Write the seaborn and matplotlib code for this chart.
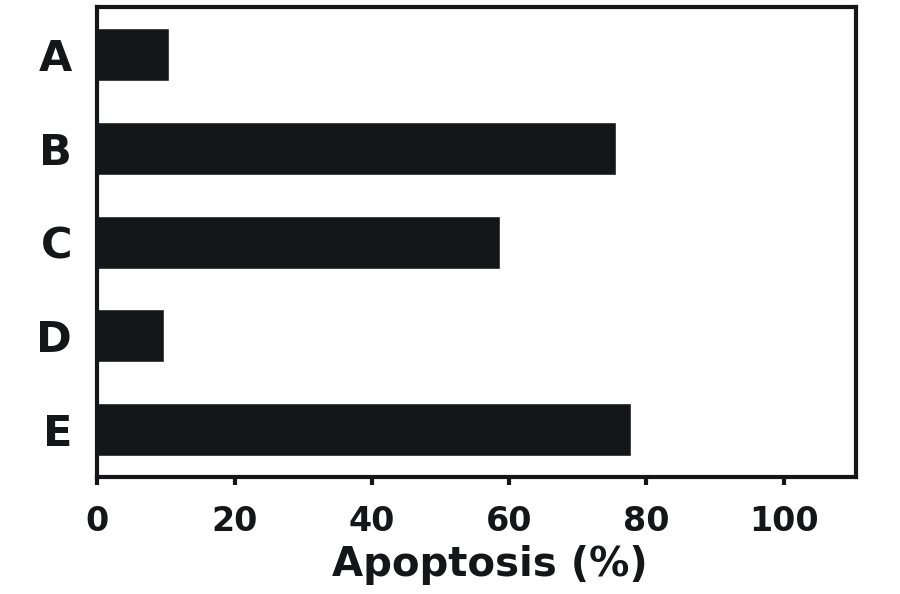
import seaborn as sns
import matplotlib.pyplot as plt
import pandas as pd

groups = ['A', 'B', 'C', 'D', 'E']
apoptosis = [10.4, 75.5, 58.6, 9.8, 77.7]

bar_color = '#151618'

sns.set_style('white')
plt.rcParams['font.family'] = ['DejaVu Sans']
plt.rcParams['font.weight'] = 'bold'

data = pd.DataFrame({'Group': groups, 'Apoptosis': apoptosis})

fig = plt.figure(figsize=(9, 5.94), dpi=100)
ax = fig.add_axes([0.108, 0.197, 0.843, 0.791])
sns.barplot(data=data, x='Apoptosis', y='Group', order=groups, orient='h',
            color=bar_color, width=0.566, saturation=1, ax=ax)

ax.set_xlim(0, 110.5)
ax.set_ylim(4.51, -0.51)
ax.set_xticks([0, 20, 40, 60, 80, 100])
ax.set_xlabel('Apoptosis (%)', fontsize=29, fontweight='bold', labelpad=6)
ax.xaxis.set_label_coords(0.517, -0.145)
ax.set_ylabel('')

for s in ax.spines.values():
    s.set_visible(True)
    s.set_linewidth(3)
    s.set_color('#151618')

ax.tick_params(axis='x', length=6, width=3, pad=14, labelsize=24, color='#151618', direction='out', bottom=True)
ax.tick_params(axis='y', length=0, pad=18, labelsize=31)
for lab in ax.get_xticklabels() + ax.get_yticklabels():
    lab.set_fontweight('bold')
    lab.set_color('#151618')
ax.xaxis.label.set_color('#151618')

plt.savefig('out.png', dpi=100)
